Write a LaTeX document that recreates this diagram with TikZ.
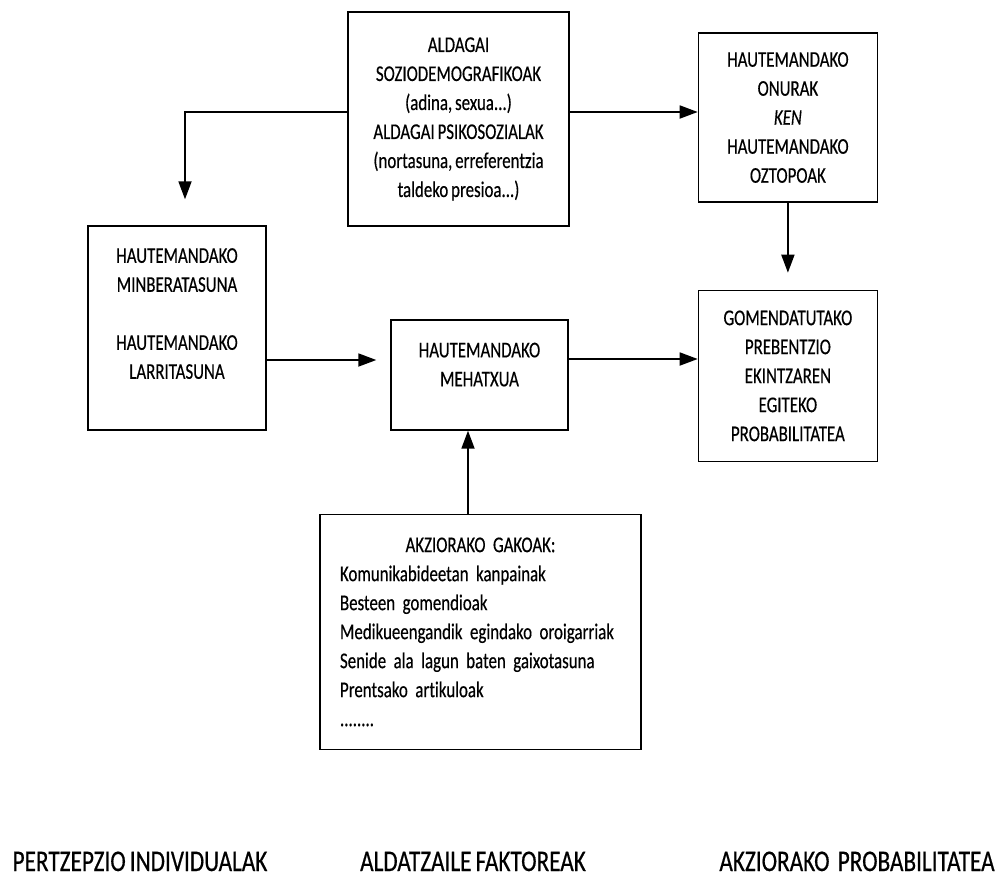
\documentclass[tikz,border=0pt]{standalone}
\usepackage{fontspec}
\setmainfont{Carlito}
\newfontfamily\boxfont[FakeStretch=0.75, FakeBold=0.4, WordSpace=0.75, RawFeature=-liga]{Carlito}
\newfontfamily\capfont[FakeStretch=0.775, FakeBold=0.5, WordSpace=0.78, RawFeature=-liga]{Carlito}
\usetikzlibrary{positioning, arrows.meta}
\tikzset{
    box_node/.style={rectangle, draw=black, line width=0.7pt, text centered, align=center,
        font=\boxfont\fontsize{11.25pt}{14.5pt}\selectfont},
    list_node/.style={rectangle, draw=black, line width=0.7pt, align=left, inner xsep=10pt,
        font=\boxfont\fontsize{11.25pt}{14.5pt}\selectfont},
    arrow/.style={line width=0.9pt, -{Triangle[length=9pt,width=6.5pt]}},
    caption_text/.style={anchor=base, font=\capfont\fontsize{15pt}{18pt}\selectfont},
}

\begin{document}
\begin{tikzpicture}[x=0.5pt, y=-0.5pt]
      \useasboundingbox (0,0) rectangle (1005,884);
      %%%%%%%%%%%%%%%%%%%%
      % MODIFYING FACTORS %
      %%%%%%%%%%%%%%%%%%%%
      \node (aldagai) [box_node, minimum width=110.5pt, minimum height=107pt] at (458.5,119)
            {ALDAGAI\\SOZIODEMOGRAFIKOAK\\(adina, sexua...)\\ALDAGAI PSIKOSOZIALAK\\(nortasuna, erreferentzia\\taldeko presioa...)};
      \node (onurak) [box_node, minimum width=89.5pt, minimum height=84.5pt, right=64pt of aldagai, yshift=0.75pt]
            {HAUTEMANDAKO\\ONURAK\\\textit{KEN}\\HAUTEMANDAKO\\OZTOPOAK};
      \node (gomen) [box_node, minimum width=89.5pt, minimum height=85.5pt, below=43.5pt of onurak]
            {GOMENDATUTAKO\\PREBENTZIO\\EKINTZAREN\\EGITEKO\\PROBABILITATEA};
      \node (minber) [box_node, minimum width=89pt, minimum height=102pt] at (177,328)
            {HAUTEMANDAKO\\MINBERATASUNA\\[14.5pt]HAUTEMANDAKO\\LARRITASUNA\\\mbox{}};
      \node (mehatxu) [box_node, minimum width=88.5pt, minimum height=55pt] at (479.5,375)
            {HAUTEMANDAKO\\MEHATXUA\\[-4pt]\mbox{}};
      \node (gakoak) [list_node, text width=140.5pt, minimum height=117.5pt, below=41.5pt of mehatxu, xshift=0.5pt]
            {\makebox[\linewidth]{AKZIORAKO GAKOAK:}\\
             Komunikabideetan kanpainak\\
             Besteen gomendioak\\
             Medikueengandik egindako oroigarriak\\
             Senide ala lagun baten gaixotasuna\\
             Prentsako artikuloak\\
             ........};

      %%%%%%%%%%%%
      % CAPTIONS %
      %%%%%%%%%%%%
      \node (caption_A) [caption_text] at (140,871) {PERTZEPZIO INDIVIDUALAK};
      \node (caption_B) [caption_text] at (473,871) {ALDATZAILE FAKTOREAK};
      \node (caption_C) [caption_text] at (857,871) {AKZIORAKO~~PROBABILITATEA};

      \draw [arrow, shorten >=13pt] ([yshift=3.5pt]aldagai.west) -| ([xshift=4pt]minber.north);
      \draw [arrow] ([yshift=3.5pt]aldagai.east) -- ([yshift=3.5pt]aldagai.east -| onurak.west);
      \draw [arrow, shorten >=8.5pt] (onurak) -- (gomen);
      \draw [arrow, shorten >=7pt] ([yshift=-16pt]minber.east) -- ([yshift=-16pt]minber.east -| mehatxu.west);
      \draw [arrow] ([yshift=8pt]mehatxu.east) -- ([yshift=8pt]mehatxu.east -| gomen.west);
      \draw [arrow] ([xshift=-6.25pt]gakoak.north) -- ([xshift=-6.25pt]gakoak.north |- mehatxu.south);
   \end{tikzpicture}
\end{document}
